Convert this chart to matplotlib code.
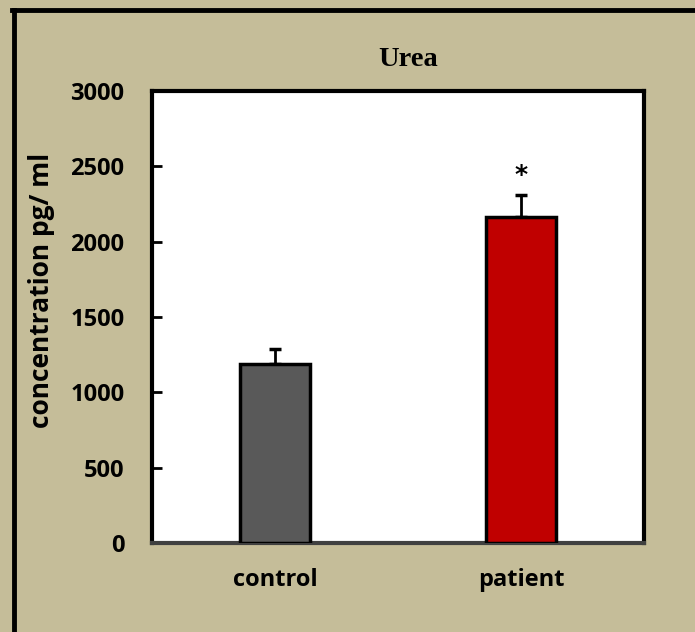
import matplotlib.pyplot as plt
from matplotlib.lines import Line2D

# Données
groupes = ['control', 'patient']
moyennes = [1185, 2165]
erreurs = [105, 145]
couleurs = ['#595959', '#C00000']
yticks = [0, 500, 1000, 1500, 2000, 2500, 3000]

fond = '#C5BD99'

fig = plt.figure(figsize=(6.95, 6.32), dpi=100, facecolor=fond)
ax = fig.add_axes([152 / 695, 1 - 543 / 632, 492 / 695, 452 / 632])

x = list(range(len(groupes)))
ax.bar(x, moyennes, width=0.285, color=couleurs, edgecolor='black', linewidth=2.5, zorder=3)
ax.errorbar(x, moyennes, yerr=[[0, 0], erreurs], fmt='none', ecolor='black',
            elinewidth=2, capsize=4.5, capthick=2.5, zorder=2)

# étoile de significativité
ax.text(1, moyennes[1] + erreurs[1] + 130, '*', ha='center', va='center',
        fontsize=18, fontweight='bold', family='DejaVu Sans')

ax.set_xlim(-0.5, 1.5)
ax.set_ylim(0, 3000)
ax.set_yticks(yticks)
ax.set_xticks(x)
ax.set_xticklabels(groupes)
ax.tick_params(axis='y', direction='in', length=7, width=2, labelsize=17, pad=20)
ax.tick_params(axis='x', length=0, labelsize=17, pad=18)
for lab in ax.get_xticklabels() + ax.get_yticklabels():
    lab.set_fontweight('bold')
    lab.set_family('Open Sans')

for s in ['left', 'top', 'right']:
    ax.spines[s].set_linewidth(3)
    ax.spines[s].set_color('black')
ax.spines['bottom'].set_linewidth(3)
ax.spines['bottom'].set_color('#404040')

# titre de l'axe y
fig.text(42 / 695, 1 - 290 / 632, 'concentration pg/ ml', rotation=90, ha='center', va='center',
         fontsize=19, fontweight='bold', family='Open Sans')
fig.text(408 / 695, 1 - 59 / 632, 'Urea', ha='center', va='center', fontsize=20.5,
         fontweight='bold', family='Liberation Serif')

# cadre noir (gauche et haut)
fig.add_artist(Line2D([14 / 695, 14 / 695], [0, 1 - 9.5 / 632], color='black', linewidth=3.5,
                      transform=fig.transFigure))
fig.add_artist(Line2D([12 / 695, 1], [1 - 9.5 / 632, 1 - 9.5 / 632], color='black', linewidth=3.5,
                      transform=fig.transFigure))

fig.savefig('out.png', dpi=100, facecolor=fond)
